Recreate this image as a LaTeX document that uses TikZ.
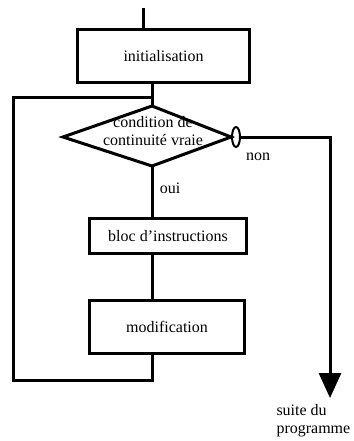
\documentclass[tikz,border=0pt]{standalone}
\usepackage{fontspec}
\setmainfont{Liberation Serif}
\usetikzlibrary{arrows.meta,shapes.geometric}
\begin{document}
\begin{tikzpicture}[x=1pt,y=-1pt,line width=3pt,>={Triangle[width=22pt,length=25pt]},
		boite/.style={draw,rectangle,inner sep=0pt},
		txt/.style={font=\fontsize{16}{18}\selectfont,inner sep=0pt}]
		\useasboundingbox (0,0) rectangle (353,441);
		\coordinate (debut) at (143,8);
		\node[boite,txt,minimum width=172pt,minimum height=53pt] (init) at (163.5,56) {initialisation};
		% losange de la condition
		\coordinate (cG) at (63,137);
		\coordinate (cH) at (152,106);
		\coordinate (cD) at (231,137);
		\coordinate (cB) at (152,166);
		\draw (cG)--(cH)--(cD)--(cB)--cycle;
		\node[txt,align=center] (cond) at (153,131) {condition de\\continuité vraie};
		\node[draw,ellipse,minimum width=8pt,minimum height=20pt,inner sep=0pt,line width=2pt] (sortie) at (236,137) {};
		\node[boite,txt,minimum width=157pt,minimum height=35pt] (bloc) at (168,236) {bloc d'instructions};
		\node[boite,txt,minimum width=155pt,minimum height=53pt] (modif) at (167,327) {modification};
		\coordinate (fin) at (330,398);
		\coordinate (retourB) at (13,380);
		\coordinate (retourH) at (13,98);
		\draw (debut)--(debut |- init.north);
		\draw (cH |- init.south)--(cH);
		\draw (cB)--(cB |- bloc.north);
		\draw (cB |- bloc.south)--(cB |- modif.north);
		\draw (cB |- modif.south) |- (retourB)--(retourH)--(cH |- retourH);
		\draw[->] (sortie.east) -| (fin);
		\node[txt] (non) at (258,157) {non};
		\node[txt] (oui) at (170,188) {oui};
		\node[txt,align=left,anchor=west] (suite) at (275,421) {suite du\\programme};
		\end{tikzpicture}
\end{document}
